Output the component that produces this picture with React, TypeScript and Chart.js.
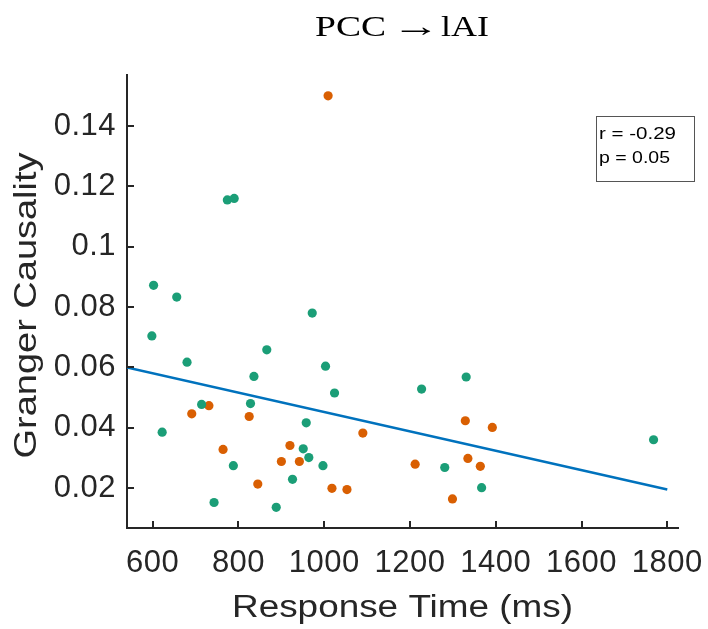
import React, { useEffect, useRef } from "react";
import { Chart, registerables } from "chart.js";

Chart.register(...registerables);

// Green group (response time in ms, Granger causality)
const greenX = [602, 656, 774, 790, 972, 598, 866, 680, 1003, 836, 1024, 714, 828, 958, 622, 951, 964, 788, 997, 926, 743, 888, 1227, 1331, 1768, 1281, 1367];
const greenY = [0.0872, 0.0833, 0.1155, 0.116, 0.078, 0.0704, 0.0658, 0.0617, 0.0604, 0.057, 0.0515, 0.0477, 0.048, 0.0416, 0.0385, 0.033, 0.0301, 0.0274, 0.0274, 0.0229, 0.0152, 0.0136, 0.0528, 0.0568, 0.036, 0.0268, 0.0201];

// Orange group
const orangeX = [1009, 731, 691, 825, 1090, 764, 920, 900, 942, 1212, 845, 1018, 1053, 1329, 1392, 1335, 1364, 1299];
const orangeY = [0.15, 0.0473, 0.0446, 0.0437, 0.0382, 0.0328, 0.0341, 0.0288, 0.0288, 0.0279, 0.0213, 0.0199, 0.0195, 0.0423, 0.0401, 0.0298, 0.0272, 0.0164];

// Least-squares fit line endpoints
const fitX = [540, 1800];
const fitY = [0.06, 0.0195];

const xTicks = [600, 800, 1000, 1200, 1400, 1600, 1800];
const yTicks = [0.02, 0.04, 0.06, 0.08, 0.1, 0.12, 0.14];
const xLimits = [540, 1825];
const yLimits = [0.00675, 0.1569];

const titleParts = ["PCC", "→", "lAI"];
const xTitle = "Response Time (ms)";
const yTitle = "Granger Causality";
const statsLines = ["r = -0.29", "p = 0.05"];

const toPoints = (xs: number[], ys: number[]) => xs.map((x, i) => ({ x, y: ys[i] }));

export default function App() {
  const ref = useRef<HTMLCanvasElement>(null);

  useEffect(() => {
    const canvas = ref.current;
    if (!canvas) return;
    const AX = "#262626";
    const sans = "'Liberation Sans', Arial, Helvetica, sans-serif";
    const serif = "'Liberation Serif', 'Times New Roman', serif";

    const drawFit = (ctx: any, text: string, left: number, width: number, baseline: number) => {
      const w = ctx.measureText(text).width;
      ctx.save();
      ctx.translate(left, baseline);
      ctx.scale(width / w, 1);
      ctx.textAlign = "left";
      ctx.fillText(text, 0, 0);
      ctx.restore();
    };

    const decor = {
      id: "decor",
      beforeDraw(chart: any) {
        (chart.ctx as any).letterSpacing = "0.5px";
      },
      afterDraw(chart: any) {
        const { ctx, chartArea, scales } = chart;
        ctx.save();
        (ctx as any).letterSpacing = "0px";
        // inward tick marks (MATLAB style)
        ctx.strokeStyle = AX;
        ctx.lineWidth = 2;
        ctx.beginPath();
        for (const v of xTicks) {
          const px = Math.round(scales.x.getPixelForValue(v));
          ctx.moveTo(px, chartArea.bottom);
          ctx.lineTo(px, chartArea.bottom - 7);
        }
        for (const v of yTicks) {
          const py = Math.round(scales.y.getPixelForValue(v));
          ctx.moveTo(chartArea.left, py);
          ctx.lineTo(chartArea.left + 7, py);
        }
        ctx.stroke();

        // axis titles (horizontally widened sans text)
        ctx.fillStyle = AX;
        ctx.font = `31px ${sans}`;
        ctx.textBaseline = "alphabetic";
        const cx = (chartArea.left + chartArea.right) / 2;
        drawFit(ctx, xTitle, cx - 170.5, 341, 617);
        ctx.save();
        ctx.translate(36, (chartArea.top + chartArea.bottom) / 2 + 4);
        ctx.rotate(-Math.PI / 2);
        drawFit(ctx, yTitle, -153, 306, 0);
        ctx.restore();

        // chart title
        ctx.fillStyle = "#000";
        ctx.font = `30px ${serif}`;
        drawFit(ctx, titleParts[0], 315, 71, 36);
        drawFit(ctx, titleParts[2], 441, 48, 36);
        drawFit(ctx, titleParts[1], 392, 48, 36);

        // stats box
        ctx.strokeStyle = "#555";
        ctx.lineWidth = 1;
        ctx.strokeRect(596.5, 116.5, 98, 65);
        ctx.fillStyle = "#000";
        ctx.font = `17px ${sans}`;
        drawFit(ctx, statsLines[0], 599, 77, 139);
        drawFit(ctx, statsLines[1], 599, 71, 163);
        ctx.restore();
      },
    };

    const chart = new Chart(canvas, {
      type: "scatter",
      data: {
        datasets: [
          {
            type: "line",
            data: toPoints(fitX, fitY),
            borderColor: "#0072BD",
            borderWidth: 2.5,
            pointRadius: 0,
            fill: false,
          } as any,
          {
            data: toPoints(greenX, greenY),
            backgroundColor: "#1b9e77",
            borderWidth: 0,
            pointRadius: 4.6,
          },
          {
            data: toPoints(orangeX, orangeY),
            backgroundColor: "#d95f02",
            borderWidth: 0,
            pointRadius: 4.6,
          },
        ],
      },
      options: {
        responsive: false,
        animation: false,
        devicePixelRatio: 1,
        layout: { padding: { top: 75, right: 30, left: 0, bottom: 0 } },
        plugins: {
          legend: { display: false },
          tooltip: { enabled: false },
          title: { display: false },
        },
        scales: {
          x: {
            type: "linear",
            min: xLimits[0],
            max: xLimits[1],
            afterFit(s: any) {
              s.height = 101;
              s.paddingLeft = 0;
              s.paddingRight = 0;
            },
            afterBuildTicks(s: any) {
              s.ticks = xTicks.map((v) => ({ value: v }));
            },
            grid: { display: false, drawTicks: false },
            border: { display: true, color: AX, width: 2 },
            ticks: {
              color: AX,
              font: { family: sans, size: 31 },
              padding: 17,
              maxRotation: 0,
              autoSkip: false,
              callback: (v: any) => String(v),
            },
          },
          y: {
            type: "linear",
            min: yLimits[0],
            max: yLimits[1],
            afterFit(s: any) {
              s.width = 127;
              s.paddingTop = 0;
              s.paddingBottom = 0;
            },
            afterBuildTicks(s: any) {
              s.ticks = yTicks.map((v) => ({ value: v }));
            },
            grid: { display: false, drawTicks: false },
            border: { display: true, color: AX, width: 2 },
            ticks: {
              color: AX,
              font: { family: sans, size: 31 },
              padding: 11,
              autoSkip: false,
              callback: (v: any) => String(Number(Number(v).toFixed(2))),
            },
          },
        },
      } as any,
      plugins: [decor],
    });

    return () => chart.destroy();
  }, []);

  return (
    <div style={{ position: "absolute", left: 0, top: 0, width: 708, height: 629 }}>
      <canvas ref={ref} width={708} height={629} style={{ display: "block" }} />
    </div>
  );
}
